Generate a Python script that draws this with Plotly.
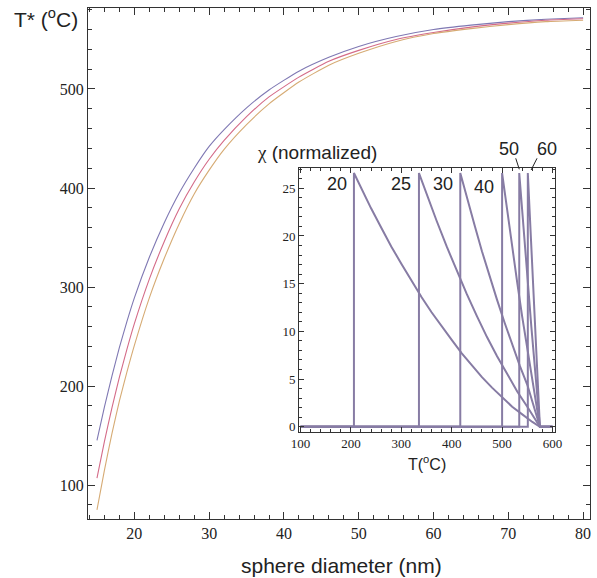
import plotly.graph_objects as go

# ---------------- data ----------------
diam = [15, 16, 17, 18, 19, 20, 22, 24, 26, 28, 30, 32, 35, 38, 42, 46, 50, 55, 60, 65, 70, 75, 80]
t_top = [145, 179, 210, 239, 265, 289, 330, 365, 395, 420, 442, 459, 481, 499, 518, 532, 543, 553, 560, 564.5, 568, 570.5, 572]
t_mid = [107, 144, 178, 209, 237, 263, 308, 346, 379, 406, 429, 448, 472, 492, 512, 528, 539, 550, 557, 562.5, 566.5, 569.5, 571]
t_bot = [75, 115, 152, 185, 214, 241, 289, 329, 364, 394, 418, 439, 464, 485, 507, 524, 536, 548, 556, 561, 565, 568, 569.5]

# inset: normalized susceptibility vs temperature for several diameters
inset_labels = ["20", "25", "30", "40", "50", "60"]
inset_T = [
    [206, 220, 240, 260, 280, 300, 320, 340, 360, 380, 400, 420, 440, 460, 480, 500, 520, 540, 560, 575],
    [335, 350, 370, 390, 410, 430, 450, 470, 490, 510, 530, 550, 575],
    [417, 430, 445, 460, 475, 490, 505, 520, 535, 550, 575],
    [500, 510, 520, 530, 540, 550, 560, 575],
    [534, 542, 550, 558, 566, 575],
    [551, 558, 565, 575],
]
inset_chi = [
    [26.6, 25.0, 22.9, 20.9, 18.9, 17.1, 15.3, 13.6, 12.0, 10.5, 9.1, 7.7, 6.4, 5.2, 4.1, 3.1, 2.1, 1.3, 0.5, 0],
    [26.6, 24.4, 21.6, 18.9, 16.3, 13.9, 11.6, 9.4, 7.4, 5.5, 3.7, 2.1, 0],
    [26.6, 24.0, 21.2, 18.4, 15.8, 13.3, 10.9, 8.6, 6.4, 4.4, 0],
    [26.6, 22.6, 18.8, 15.1, 11.5, 8.1, 4.8, 0],
    [26.6, 21.0, 15.6, 10.5, 5.6, 0],
    [26.6, 18.9, 11.5, 0],
]
inset_T_span = [100, 600]

# ---------------- layout helpers ----------------
W, H = 597, 578
ML, MR, MT, MB = 88, 0, 8, 59
PW, PH = W - ML - MR, H - MT - MB


def px(x):
    return (x - ML) / PW


def py(y):
    return (H - MB - y) / PH


SERIF = "Times New Roman"
SANS = "Liberation Sans"
FRAME = "#333333"
INSET_COL = "#877ca4"

fig = go.Figure()

for ys, col in [(t_top, "#7f78b3"), (t_mid, "#d46b88"), (t_bot, "#d6ab74")]:
    fig.add_trace(go.Scatter(x=diam, y=ys, mode="lines", line=dict(color=col, width=1.1, shape="spline", smoothing=0.5),
                             xaxis="x", yaxis="y", showlegend=False, hoverinfo="skip"))

for tv, cv in zip(inset_T, inset_chi):
    xs = [inset_T_span[0], tv[0]] + tv + [inset_T_span[1]]
    ys = [0, 0] + cv + [0]
    fig.add_trace(go.Scatter(x=xs, y=ys, mode="lines", line=dict(color=INSET_COL, width=2),
                             xaxis="x2", yaxis="y2", showlegend=False, hoverinfo="skip"))

axis_common = dict(showline=True, linecolor=FRAME, linewidth=1, mirror="allticks",
                   ticks="inside", tickcolor=FRAME, showgrid=False, zeroline=False)

fig.update_layout(
    width=W, height=H,
    margin=dict(l=ML, r=MR, t=MT, b=MB),
    paper_bgcolor="white", plot_bgcolor="white",
    xaxis=dict(range=[13.8, 80.92], dtick=10, tick0=0, ticklen=7,
               minor=dict(dtick=2, ticklen=4, ticks="inside", tickcolor=FRAME),
               tickfont=dict(family=SERIF, size=16, color="#222"), **axis_common),
    yaxis=dict(range=[65.7, 581.8], dtick=100, tick0=0, ticklen=7,
               minor=dict(dtick=20, ticklen=4, ticks="inside", tickcolor=FRAME),
               tickfont=dict(family=SERIF, size=16, color="#222"), **axis_common),
    xaxis2=dict(domain=[px(302), px(562)], anchor="y2", range=[97.1, 605.9], dtick=100, tick0=0,
                ticklen=5, minor=dict(dtick=20, ticklen=3, ticks="inside", tickcolor=FRAME),
                tickfont=dict(family=SERIF, size=13, color="#222"), **axis_common),
    yaxis2=dict(domain=[py(431.7), py(167.7)], anchor="x2", range=[-0.52, 27.16], dtick=5, tick0=0,
                ticklen=5, minor=dict(dtick=1, ticklen=3, ticks="inside", tickcolor=FRAME),
                tickfont=dict(family=SERIF, size=13, color="#222"), **axis_common),
)

ann = []
ann.append(dict(text="T* (<sup>o</sup>C)", x=px(80), y=py(18), xanchor="right", yanchor="middle",
                font=dict(family=SANS, size=21, color="#222")))
ann.append(dict(text="sphere diameter (nm)", x=px(345), y=py(565), xanchor="center", yanchor="middle",
                font=dict(family=SANS, size=21, color="#222")))
ann.append(dict(text="<span style='font-family:Times New Roman'>χ</span> (normalized)", x=px(257), y=py(152),
                xanchor="left", yanchor="middle", font=dict(family=SANS, size=19, color="#222")))
ann.append(dict(text="T(<sup>o</sup>C)", x=px(432), y=py(463), xanchor="center", yanchor="middle",
                font=dict(family=SANS, size=16, color="#222")))
label_pos = [(340, 184), (405, 184), (448, 184), (490, 187), (515, 149), (553, 149)]
for lab, (lx, ly) in zip(inset_labels, label_pos):
    ann.append(dict(text=lab, x=px(lx), y=py(ly), xanchor="center", yanchor="middle",
                    font=dict(family=SANS, size=18, color="#222")))
for a in ann:
    a.update(xref="paper", yref="paper", showarrow=False)
fig.update_layout(annotations=ann)

fig.add_shape(type="line", xref="paper", yref="paper", x0=px(521.7), y0=py(158.3), x1=px(525.3), y1=py(169.3),
              line=dict(color="#222", width=1))
fig.add_shape(type="line", xref="paper", yref="paper", x0=px(543.3), y0=py(158.3), x1=px(537.3), y1=py(170),
              line=dict(color="#222", width=1))

fig.write_html("out.html")
